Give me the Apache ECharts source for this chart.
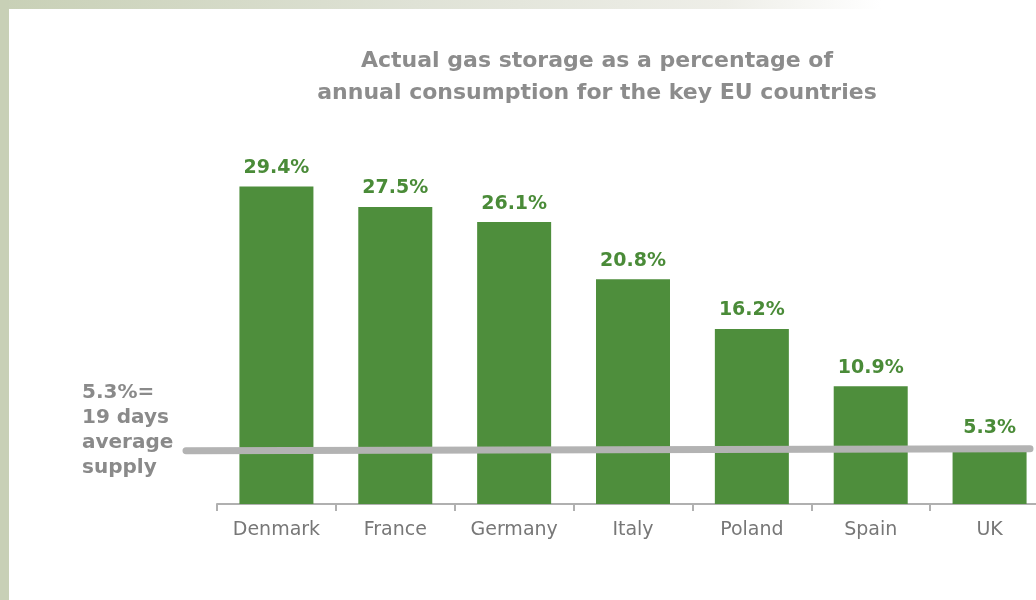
<!DOCTYPE html>
<html>
<head>
<meta charset="utf-8">
<script src="https://cdn.jsdelivr.net/npm/echarts@6/dist/echarts.min.js"></script>
<style>
html,body{margin:0;padding:0;background:#fff;}
#c{width:1036px;height:600px;}
</style>
</head>
<body>
<div id="c"></div>
<script>
const categories = ['Denmark', 'France', 'Germany', 'Italy', 'Poland', 'Spain', 'UK'];
const storagePct = [29.4, 27.5, 26.1, 20.8, 16.2, 10.9, 5.3];
const referenceValue = 5.3;
const titleText = 'Actual gas storage as a percentage of\nannual consumption for the key EU countries';
const noteText = '5.3%=\n19 days\naverage\nsupply';

const FONT = '"DejaVu Sans"';
const chart = echarts.init(document.getElementById('c'), null, {renderer: 'canvas'});
const option = {
  backgroundColor: '#ffffff',
  animation: false,
  title: {
    text: titleText,
    left: 592,
    top: 40,
    textAlign: 'center',
    textStyle: {fontFamily: FONT, fontSize: 22, fontWeight: 'bold', color: '#8c8c8c', lineHeight: 32}
  },
  grid: {left: 217, width: 832, top: 180, height: 324, outerBoundsMode: 'none', containLabel: false},
  xAxis: {
    type: 'category',
    data: categories,
    boundaryGap: true,
    axisLine: {lineStyle: {color: '#b0b0b0', width: 2}},
    axisTick: {show: true, length: 7, alignWithLabel: false, lineStyle: {color: '#b0b0b0', width: 2}},
    axisLabel: {fontFamily: FONT, fontSize: 19, fontWeight: 'normal', color: '#777777', margin: 17, interval: 0}
  },
  yAxis: {
    type: 'value', min: 0, max: 30, show: false,
    splitLine: {show: false}
  },
  series: [{
    type: 'bar',
    data: storagePct,
    barWidth: 74,
    itemStyle: {color: '#4e8e3c'},
    label: {
      show: true, position: 'top', distance: 9,
      formatter: p => p.value.toFixed(1) + '%',
      fontFamily: FONT, fontSize: 19, fontWeight: 'bold', color: '#4a8b38'
    },
    z: 2
  }]
};
chart.setOption(option);

const yRef = chart.convertToPixel({yAxisIndex: 0}, referenceValue);
chart.setOption({
  graphic: [
    {type: 'rect', left: 0, top: 0, shape: {width: 1036, height: 9}, style: {fill: new echarts.graphic.LinearGradient(0, 0, 1, 0, [
      {offset: 0, color: '#c8d0b6'}, {offset: 0.4, color: '#dfe2d6'}, {offset: 0.7, color: '#eeeee8'}, {offset: 0.85, color: '#ffffff'}, {offset: 1, color: '#ffffff'}])}, z: 0, silent: true},
    {type: 'rect', left: 0, top: 0, shape: {width: 9, height: 600}, style: {fill: '#c8d0b6'}, z: 1, silent: true},
    {type: 'line', shape: {x1: 186, y1: yRef + 4, x2: 1030, y2: yRef + 2}, style: {stroke: '#b3b3b3', lineWidth: 7, lineCap: 'round'}, z: 10, silent: true},
    {type: 'text', left: 82, top: 380, style: {text: noteText, font: 'bold 20px ' + FONT, fill: '#8a8a8a', lineHeight: 25}, z: 10}
  ]
});
</script>
</body>
</html>
